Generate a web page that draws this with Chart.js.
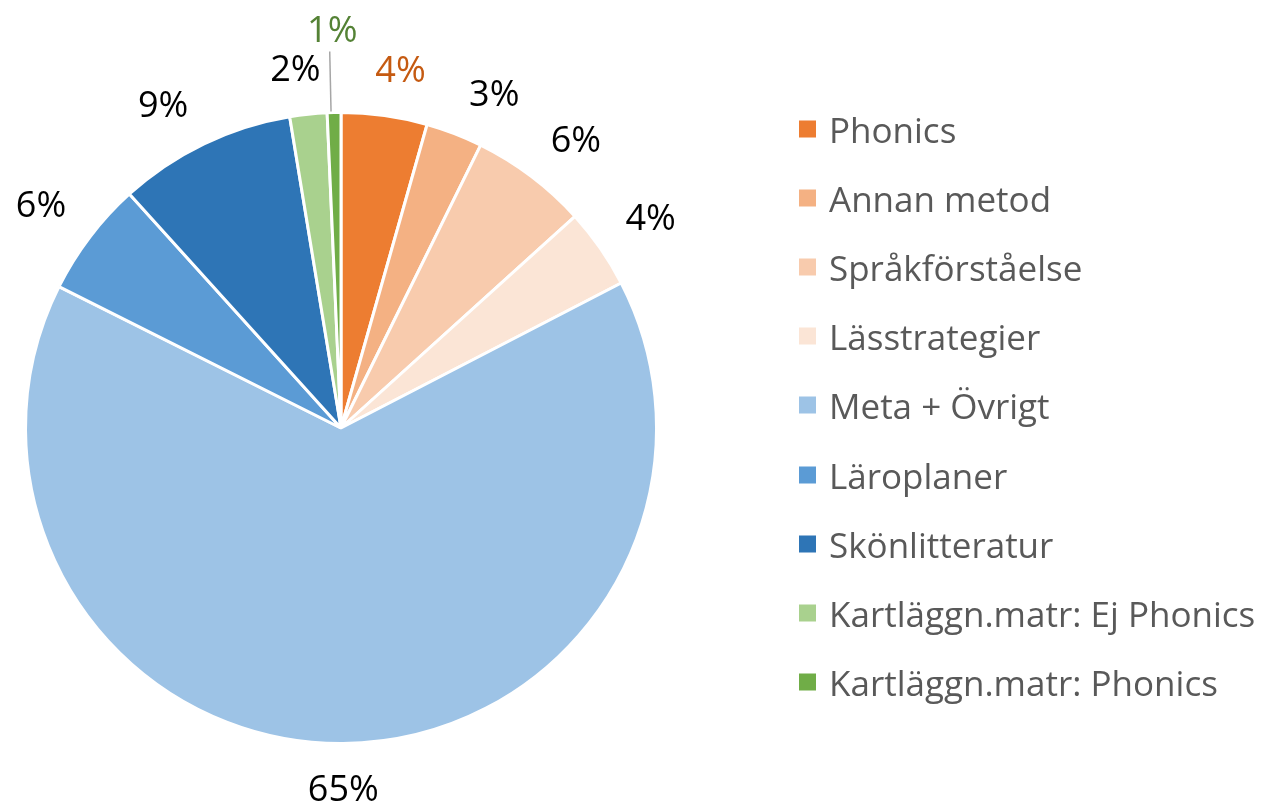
<!DOCTYPE html>
<html>
<head>
<meta charset="utf-8">
<script src="https://cdn.jsdelivr.net/npm/chart.js@4/dist/chart.umd.min.js"></script>
<style>
    html, body { margin: 0; padding: 0; background: #fff; }
    .wrap { position: relative; width: 1265px; height: 805px; }
    canvas.pieChart { position: absolute; left: 0; top: 0; }
    .legend { position: absolute; left: 799px; top: 0; font-family: 'Open Sans', sans-serif; color: #595959; font-size: 35px; }
    .legend-item { position: absolute; left: 0; white-space: nowrap; display: flex; align-items: center; transform: translateY(-50%); }
    .legend-dot { width: 17px; height: 17px; margin-right: 13px; flex: none; }
</style>
</head>
<body>
<div class="wrap">
    <canvas class="pieChart" width="1265" height="805"></canvas>
    <div class="legend"></div>
</div>
<script>
const categories = [
    'Phonics',
    'Annan metod',
    'Språkförståelse',
    'Lässtrategier',
    'Meta + Övrigt',
    'Läroplaner',
    'Skönlitteratur',
    'Kartläggn.matr: Ej Phonics',
    'Kartläggn.matr: Phonics'
];
const shares = [4.4, 2.9, 6.0, 4.1, 65.0, 5.9, 9.1, 1.9, 0.7];
const percentLabels = ['4%', '3%', '6%', '4%', '65%', '6%', '9%', '2%', '1%'];

const SLICE_COLORS = ['#ED7D31', '#F4B183', '#F8CBAD', '#FBE5D6', '#9DC3E6', '#5B9BD5', '#2E75B6', '#A9D18E', '#70AD47'];
const LABEL_COLORS = ['#C55A11', '#000', '#000', '#000', '#000', '#000', '#000', '#000', '#548235'];
// small angle tweaks (degrees) so labels spread like the original
const LABEL_NUDGE = [1.5, 3.5, 2, 0.5, 0, -0.5, -3, -1.3, 0];

// legend built by hand so it sits where the original one does
const legendEl = document.querySelector('.legend');
categories.forEach((name, i) => {
    const item = document.createElement('div');
    item.className = 'legend-item';
    item.style.top = (129 + i * 69.1) + 'px';
    item.innerHTML = `<span class="legend-dot" style="background:${SLICE_COLORS[i]}"></span>${name}`;
    legendEl.appendChild(item);
});

const LABEL_GAP = 31;
const LABEL_HALF_HEIGHT = 13;

const outsideLabels = {
    id: 'outsideLabels',
    afterDatasetsDraw(chart) {
        const ctx = chart.ctx;
        const arcs = chart.getDatasetMeta(0).data;
        ctx.save();
        ctx.font = '36px "Open Sans", sans-serif';
        ctx.textAlign = 'center';
        ctx.textBaseline = 'alphabetic';
        arcs.forEach((arc, i) => {
            const mid = (arc.startAngle + arc.endAngle) / 2 + LABEL_NUDGE[i] * Math.PI / 180;
            const cos = Math.cos(mid);
            const sin = Math.sin(mid);
            const halfW = ctx.measureText(percentLabels[i]).width / 2;
            const isLast = i === arcs.length - 1;
            // push the text box out so its near edge keeps a fixed gap from the rim
            const extent = Math.abs(cos) * halfW + Math.abs(sin) * LABEL_HALF_HEIGHT;
            const dist = isLast ? arc.outerRadius + 84 : arc.outerRadius + LABEL_GAP + extent;
            const x = arc.x + cos * dist;
            const y = arc.y + sin * dist;
            if (isLast) {
                ctx.strokeStyle = '#A6A6A6';
                ctx.lineWidth = 1.5;
                ctx.beginPath();
                ctx.moveTo(arc.x - 3 + cos * (arc.outerRadius + 1), arc.y + sin * (arc.outerRadius + 1));
                ctx.lineTo(arc.x - 3 + cos * (dist - 23), arc.y + sin * (dist - 23));
                ctx.stroke();
            }
            ctx.fillStyle = LABEL_COLORS[i];
            ctx.fillText(percentLabels[i], x, y + 13);
        });
        ctx.restore();
    }
};

new Chart(document.querySelector('canvas.pieChart'), {
    type: 'pie',
    data: {
        labels: categories,
        datasets: [{
            data: shares,
            backgroundColor: SLICE_COLORS,
            borderColor: '#FFFFFF',
            borderWidth: 3
        }]
    },
    options: {
        responsive: false,
        animation: false,
        layout: { padding: { left: 24, right: 607, top: 111, bottom: 60 } },
        plugins: {
            legend: { display: false },
            tooltip: { enabled: false }
        }
    },
    plugins: [outsideLabels]
});
</script>
</body>
</html>
